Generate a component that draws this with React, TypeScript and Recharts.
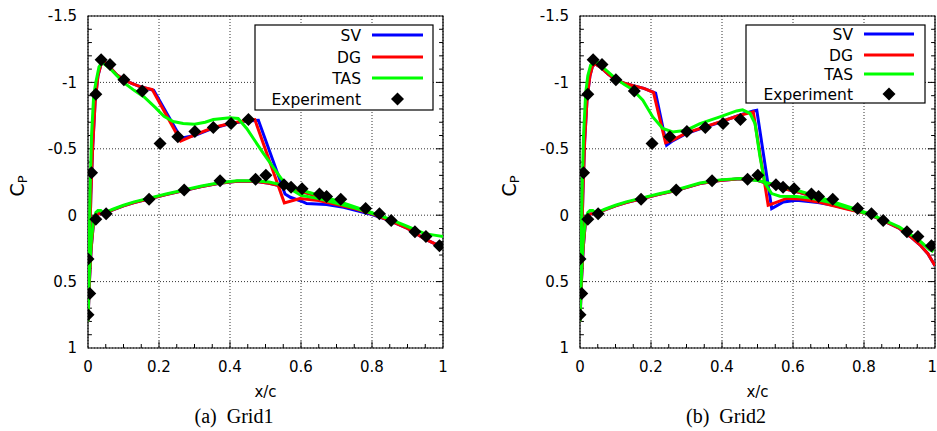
import React from 'react';
import {
  ComposedChart,
  Line,
  Scatter,
  XAxis,
  YAxis,
  CartesianGrid,
  ReferenceLine,
  ReferenceArea,
  Label,
} from 'recharts';

type Pt = [number, number];

const xTicks = [0, 0.2, 0.4, 0.6, 0.8, 1];
const yTicks = [-1.5, -1, -0.5, 0, 0.5, 1];

const legendNames = ['SV', 'DG', 'TAS', 'Experiment'];
const lineColors = ['#0000ff', '#ff0000', '#00ff00'];

// experiment, same points on both grids
const expX = [
  0, 0.005, 0, 0.022, 0.01, 0.022, 0.037, 0.062, 0.101, 0.153, 0.203, 0.253, 0.301, 0.353, 0.403, 0.452,
  0.051, 0.172, 0.271, 0.372, 0.472, 0.501, 0.552, 0.572, 0.603, 0.652, 0.672, 0.712, 0.782, 0.821, 0.854,
  0.921, 0.952, 0.99,
];
const expCp = [
  0.75, 0.59, 0.33, 0.03, -0.32, -0.91, -1.17, -1.135, -1.02, -0.936, -0.54, -0.59, -0.63, -0.66, -0.69, -0.72,
  -0.01, -0.12, -0.19, -0.26, -0.27, -0.3, -0.23, -0.21, -0.2, -0.16, -0.14, -0.12, -0.05, -0.01, 0.04,
  0.125, 0.16, 0.23,
];

// Grid1, surfaces listed from leading edge to trailing edge
const sv1Upper: Pt[] = [
  [0, 0.8], [0.004, 0.3], [0.008, -0.15], [0.013, -0.5], [0.02, -0.85], [0.028, -1.05], [0.036, -1.13],
  [0.045, -1.16], [0.06, -1.12], [0.08, -1.06], [0.1, -1.02], [0.125, -0.99], [0.15, -0.965], [0.185, -0.94],
  [0.262, -0.58], [0.3, -0.6], [0.353, -0.655], [0.4, -0.69], [0.447, -0.71], [0.48, -0.715], [0.555, -0.16],
  [0.57, -0.135], [0.606, -0.1], [0.616, -0.088], [0.672, -0.08], [0.72, -0.06], [0.8, -0.005], [0.85, 0.04],
  [0.9, 0.1], [0.95, 0.18], [1, 0.245],
];
const dg1Upper: Pt[] = [
  [0, 0.8], [0.004, 0.3], [0.008, -0.15], [0.013, -0.5], [0.02, -0.85], [0.028, -1.05], [0.036, -1.13],
  [0.045, -1.16], [0.06, -1.12], [0.08, -1.06], [0.1, -1.02], [0.125, -0.99], [0.15, -0.965], [0.181, -0.946],
  [0.261, -0.558], [0.306, -0.61], [0.353, -0.66], [0.4, -0.69], [0.447, -0.713], [0.47, -0.72], [0.553, -0.093],
  [0.597, -0.126], [0.65, -0.11], [0.7, -0.08], [0.75, -0.05], [0.8, -0.01], [0.85, 0.04], [0.9, 0.1],
  [0.95, 0.18], [1, 0.245],
];
const tas1Upper: Pt[] = [
  [0, 0.8], [0.003, 0.3], [0.006, -0.2], [0.01, -0.6], [0.016, -0.9], [0.022, -1.0], [0.031, -1.117],
  [0.038, -1.145], [0.045, -1.14], [0.06, -1.11], [0.08, -1.055], [0.1, -1.0], [0.13, -0.94], [0.158, -0.89],
  [0.19, -0.81], [0.214, -0.745], [0.24, -0.705], [0.268, -0.69], [0.3, -0.685], [0.33, -0.7], [0.353, -0.72],
  [0.4, -0.733], [0.423, -0.728], [0.447, -0.653], [0.494, -0.465], [0.55, -0.255], [0.575, -0.19],
  [0.6, -0.15], [0.65, -0.125], [0.7, -0.09], [0.75, -0.055], [0.8, -0.015], [0.85, 0.03], [0.9, 0.085],
  [0.95, 0.14], [0.975, 0.15], [1, 0.16],
];
const dg1Lower: Pt[] = [
  [0, 0.8], [0.004, 0.5], [0.009, 0.25], [0.015, 0.07], [0.022, 0], [0.03, -0.01], [0.045, -0.01],
  [0.07, -0.04], [0.1, -0.07], [0.13, -0.095], [0.17, -0.122], [0.22, -0.155], [0.27, -0.185], [0.32, -0.215],
  [0.37, -0.24], [0.42, -0.255], [0.47, -0.255], [0.51, -0.24], [0.55, -0.215], [0.6, -0.18], [0.65, -0.14],
  [0.7, -0.1], [0.75, -0.055], [0.8, -0.01], [0.85, 0.04], [0.9, 0.1], [0.95, 0.18], [1, 0.245],
];
const tas1Lower: Pt[] = [
  [0, 0.8], [0.004, 0.45], [0.009, 0.2], [0.015, 0.05], [0.022, -0.02], [0.028, -0.035], [0.036, -0.035],
  [0.045, -0.015], [0.07, -0.045], [0.1, -0.075], [0.13, -0.1], [0.17, -0.127], [0.22, -0.16], [0.27, -0.19],
  [0.32, -0.22], [0.37, -0.245], [0.42, -0.26], [0.47, -0.26], [0.51, -0.25], [0.55, -0.225], [0.6, -0.19],
  [0.65, -0.15], [0.7, -0.11], [0.75, -0.065], [0.8, -0.02], [0.85, 0.03], [0.9, 0.085], [0.95, 0.14],
  [0.975, 0.15], [1, 0.16],
];

// Grid2
const sv2Upper: Pt[] = [
  [0, 0.8], [0.004, 0.3], [0.008, -0.15], [0.013, -0.55], [0.02, -0.88], [0.028, -1.05], [0.035, -1.12],
  [0.042, -1.14], [0.06, -1.11], [0.08, -1.06], [0.1, -1.02], [0.125, -0.995], [0.15, -0.975], [0.18, -0.955],
  [0.213, -0.92], [0.244, -0.527], [0.261, -0.56], [0.3, -0.615], [0.338, -0.65], [0.394, -0.7],
  [0.451, -0.755], [0.488, -0.785], [0.498, -0.79], [0.54, -0.05], [0.573, -0.1], [0.61, -0.113],
  [0.67, -0.095], [0.714, -0.075], [0.76, -0.045], [0.81, -0.012], [0.85, 0.035], [0.9, 0.1], [0.93, 0.16],
  [0.96, 0.23], [0.98, 0.29], [1, 0.38],
];
const dg2Upper: Pt[] = [
  [0, 0.8], [0.004, 0.3], [0.008, -0.15], [0.013, -0.55], [0.02, -0.88], [0.028, -1.05], [0.035, -1.12],
  [0.042, -1.14], [0.06, -1.11], [0.08, -1.06], [0.1, -1.02], [0.125, -0.995], [0.15, -0.975], [0.18, -0.955],
  [0.207, -0.925], [0.241, -0.545], [0.261, -0.565], [0.3, -0.62], [0.338, -0.653], [0.394, -0.703],
  [0.451, -0.753], [0.488, -0.778], [0.53, -0.075], [0.549, -0.093], [0.582, -0.126], [0.62, -0.122],
  [0.67, -0.1], [0.714, -0.07], [0.76, -0.04], [0.81, -0.01], [0.85, 0.035], [0.9, 0.1], [0.93, 0.16],
  [0.96, 0.23], [0.98, 0.29], [1, 0.38],
];
const tas2Upper: Pt[] = [
  [0, 0.8], [0.003, 0.3], [0.006, -0.2], [0.01, -0.6], [0.016, -0.92], [0.022, -1.05], [0.03, -1.13],
  [0.04, -1.155], [0.05, -1.15], [0.07, -1.1], [0.1, -1.03], [0.125, -0.985], [0.148, -0.946], [0.177, -0.866],
  [0.205, -0.74], [0.233, -0.653], [0.261, -0.627], [0.3, -0.64], [0.338, -0.69], [0.394, -0.74],
  [0.441, -0.785], [0.458, -0.793], [0.479, -0.766], [0.493, -0.69], [0.507, -0.44], [0.521, -0.24],
  [0.54, -0.163], [0.563, -0.143], [0.61, -0.14], [0.65, -0.13], [0.7, -0.1], [0.76, -0.05], [0.81, -0.01],
  [0.85, 0.03], [0.9, 0.09], [0.93, 0.143], [0.96, 0.2], [0.985, 0.26], [0.992, 0.27], [1, 0.225],
];
const dg2Lower: Pt[] = [
  [0, 0.8], [0.004, 0.5], [0.009, 0.25], [0.015, 0.06], [0.022, 0], [0.03, -0.01], [0.045, -0.012],
  [0.07, -0.04], [0.1, -0.07], [0.13, -0.095], [0.17, -0.122], [0.22, -0.155], [0.27, -0.185], [0.338, -0.238],
  [0.394, -0.262], [0.451, -0.274], [0.498, -0.265], [0.526, -0.24], [0.573, -0.2], [0.62, -0.17],
  [0.67, -0.13], [0.714, -0.09], [0.76, -0.05], [0.81, -0.01], [0.85, 0.035], [0.9, 0.1], [0.93, 0.16],
  [0.96, 0.23], [0.98, 0.29], [1, 0.38],
];
const tas2Lower: Pt[] = [
  [0, 0.8], [0.004, 0.45], [0.009, 0.2], [0.015, 0.04], [0.022, -0.02], [0.028, -0.035], [0.036, -0.035],
  [0.045, -0.015], [0.07, -0.045], [0.1, -0.075], [0.13, -0.1], [0.17, -0.127], [0.22, -0.16], [0.27, -0.19],
  [0.338, -0.242], [0.394, -0.266], [0.451, -0.276], [0.498, -0.262], [0.526, -0.245], [0.573, -0.215],
  [0.62, -0.18], [0.67, -0.14], [0.714, -0.1], [0.76, -0.06], [0.81, -0.015], [0.85, 0.03], [0.9, 0.09],
  [0.93, 0.143], [0.96, 0.2], [0.985, 0.26], [0.992, 0.27], [1, 0.225],
];

const FONT = '"DejaVu Sans", sans-serif';
const H = 431;
const PLOT_TOP = 16;
const PLOT_BOTTOM = 348;

// upper surface runs back from the trailing edge, then the lower one out again
const loop = (upper: Pt[], lower: Pt[]) =>
  [...upper].reverse().concat(lower.slice(1)).map(([x, cp]) => ({ x, cp }));

const expData = expX.map((x, i) => ({ x, cp: expCp[i] }));

// inward tick marks: every 0.1 on the sides, every 0.05 on the bottom
const yMarks = Array.from({ length: 24 }, (_, i) => (i - 14) / 10);
const xMarks = Array.from({ length: 19 }, (_, i) => (i + 1) / 20);

const Diamond = (props: any) => {
  const { cx, cy } = props;
  const r = 6.5;
  return (
    <polygon
      points={`${cx},${cy - r} ${cx + r},${cy} ${cx},${cy + r} ${cx - r},${cy}`}
      fill="#000"
    />
  );
};

// x tick text; on the right panel the last label is pulled in so it stays on the page
const makeXTick = (pullLast: boolean) => (props: any) => {
  const { x, y, payload } = props;
  const last = pullLast && payload.value === 1;
  return (
    <text
      x={last ? x + 2 : x}
      y={y}
      dy="0.71em"
      textAnchor={last ? 'end' : 'middle'}
      fontSize={15}
      fontFamily={FONT}
      fill="#000"
    >
      {payload.value}
    </text>
  );
};

const CpLabel = (props: any) => {
  const vb = props.viewBox;
  const cx = vb.x + vb.width - 64;
  const cy = vb.y + vb.height / 2 + 4;
  return (
    <text
      x={cx}
      y={cy}
      transform={`rotate(-90 ${cx} ${cy})`}
      textAnchor="middle"
      fill="#000"
      fontFamily={FONT}
    >
      <tspan fontSize={19}>C</tspan>
      <tspan fontSize={13} dy={3}>P</tspan>
    </text>
  );
};

interface LegendSpec {
  x: number;
  y: number;
  w: number;
  h: number;
  rows: number[];
  textRight: number;
  line: [number, number];
}

interface PanelProps {
  left: number;
  width: number;
  plotLeft: number;
  plotRight: number;
  lines: { x: number; cp: number }[][];
  caption: string;
  captionX: number;
  pullLastTick: boolean;
  legend: LegendSpec;
}

const Panel = ({ left, width, plotLeft, plotRight, lines, caption, captionX, pullLastTick, legend }: PanelProps) => {
  const mid = (legend.line[0] + legend.line[1]) / 2;
  return (
    <div style={{ position: 'absolute', left, top: 0, width, height: H }}>
      <ComposedChart
        width={width}
        height={H}
        margin={{ top: PLOT_TOP, right: width - plotRight, bottom: H - PLOT_BOTTOM - 30, left: plotLeft - 60 }}
      >
        <CartesianGrid stroke="#333" strokeDasharray="1 2" />
        <XAxis
          type="number"
          dataKey="x"
          domain={[0, 1]}
          ticks={xTicks}
          allowDataOverflow
          axisLine={false}
          tickLine={false}
          tickSize={6}
          tickMargin={7}
          height={30}
          interval={0}
          tick={makeXTick(pullLastTick)}
        >
          <Label value="x/c" position="bottom" offset={8} style={{ fill: '#000', fontSize: 15, fontFamily: FONT }} />
        </XAxis>
        <YAxis
          type="number"
          dataKey="cp"
          domain={[-1.5, 1]}
          reversed
          ticks={yTicks}
          allowDataOverflow
          axisLine={false}
          tickLine={false}
          tickSize={5}
          tickMargin={6}
          width={60}
          interval={0}
          tick={{ fill: '#000', fontSize: 15, fontFamily: FONT }}
        >
          <Label content={CpLabel} />
        </YAxis>
        {yMarks.map((v) => {
          const len = Math.abs(v * 2 - Math.round(v * 2)) < 1e-9 ? 0.02 : 0.011;
          return [
            <ReferenceLine key={`l${v}`} segment={[{ x: 0, y: v }, { x: len, y: v }]} stroke="#000" />,
            <ReferenceLine key={`r${v}`} segment={[{ x: 1 - len, y: v }, { x: 1, y: v }]} stroke="#000" />,
          ];
        })}
        {xMarks.map((v, i) => {
          const len = (i + 1) % 4 === 0 ? 0.05 : 0.03;
          return <ReferenceLine key={`b${v}`} segment={[{ x: v, y: 1 }, { x: v, y: 1 - len }]} stroke="#000" />;
        })}
        <ReferenceArea x1={0} x2={1} y1={-1.5} y2={1} fill="none" stroke="#000" strokeWidth={1.2} />
        {lines.map((d, i) => (
          <Line
            key={legendNames[i]}
            data={d}
            dataKey="cp"
            type="linear"
            stroke={lineColors[i]}
            strokeWidth={3}
            dot={false}
            activeDot={false}
            isAnimationActive={false}
          />
        ))}
        <Scatter data={expData} dataKey="cp" shape={Diamond} isAnimationActive={false} />
      </ComposedChart>
      <svg
        width={width}
        height={H}
        style={{ position: 'absolute', left: 0, top: 0, pointerEvents: 'none' }}
      >
        <rect x={legend.x} y={legend.y} width={legend.w} height={legend.h} fill="#fff" stroke="#000" strokeWidth={1.2} />
        {legendNames.map((name, i) => (
          <g key={name}>
            <text
              x={legend.textRight}
              y={legend.rows[i] + 5.5}
              textAnchor="end"
              fontSize={15.5}
              fontFamily={FONT}
              fill="#000"
            >
              {name}
            </text>
            {i < 3 ? (
              <line
                x1={legend.line[0]}
                x2={legend.line[1]}
                y1={legend.rows[i]}
                y2={legend.rows[i]}
                stroke={lineColors[i]}
                strokeWidth={3}
              />
            ) : (
              <Diamond cx={mid} cy={legend.rows[i]} />
            )}
          </g>
        ))}
      </svg>
      <div
        style={{
          position: 'absolute',
          left: captionX - 100,
          width: 200,
          top: 404,
          textAlign: 'center',
          fontFamily: '"Liberation Serif", serif',
          fontSize: 20,
          lineHeight: '24px',
          color: '#000',
          whiteSpace: 'pre',
        }}
      >
        {caption}
      </div>
    </div>
  );
};

export default function App() {
  return (
    <div style={{ position: 'absolute', left: 0, top: 0, width: 937, height: H, overflow: 'hidden', background: '#fff' }}>
      <Panel
        left={0}
        width={467}
        plotLeft={88}
        plotRight={443}
        lines={[loop(sv1Upper, dg1Lower), loop(dg1Upper, dg1Lower), loop(tas1Upper, tas1Lower)]}
        caption="(a)  Grid1"
        captionX={234}
        pullLastTick={false}
        legend={{ x: 255, y: 25, w: 178, h: 85, rows: [35, 57, 78, 99], textRight: 361, line: [372, 423] }}
      />
      <Panel
        left={467}
        width={470}
        plotLeft={113}
        plotRight={468}
        lines={[loop(sv2Upper, dg2Lower), loop(dg2Upper, dg2Lower), loop(tas2Upper, tas2Lower)]}
        caption="(b)  Grid2"
        captionX={259}
        pullLastTick
        legend={{ x: 279, y: 25, w: 179, h: 78, rows: [34, 55, 74, 94], textRight: 386, line: [397, 447] }}
      />
    </div>
  );
}
